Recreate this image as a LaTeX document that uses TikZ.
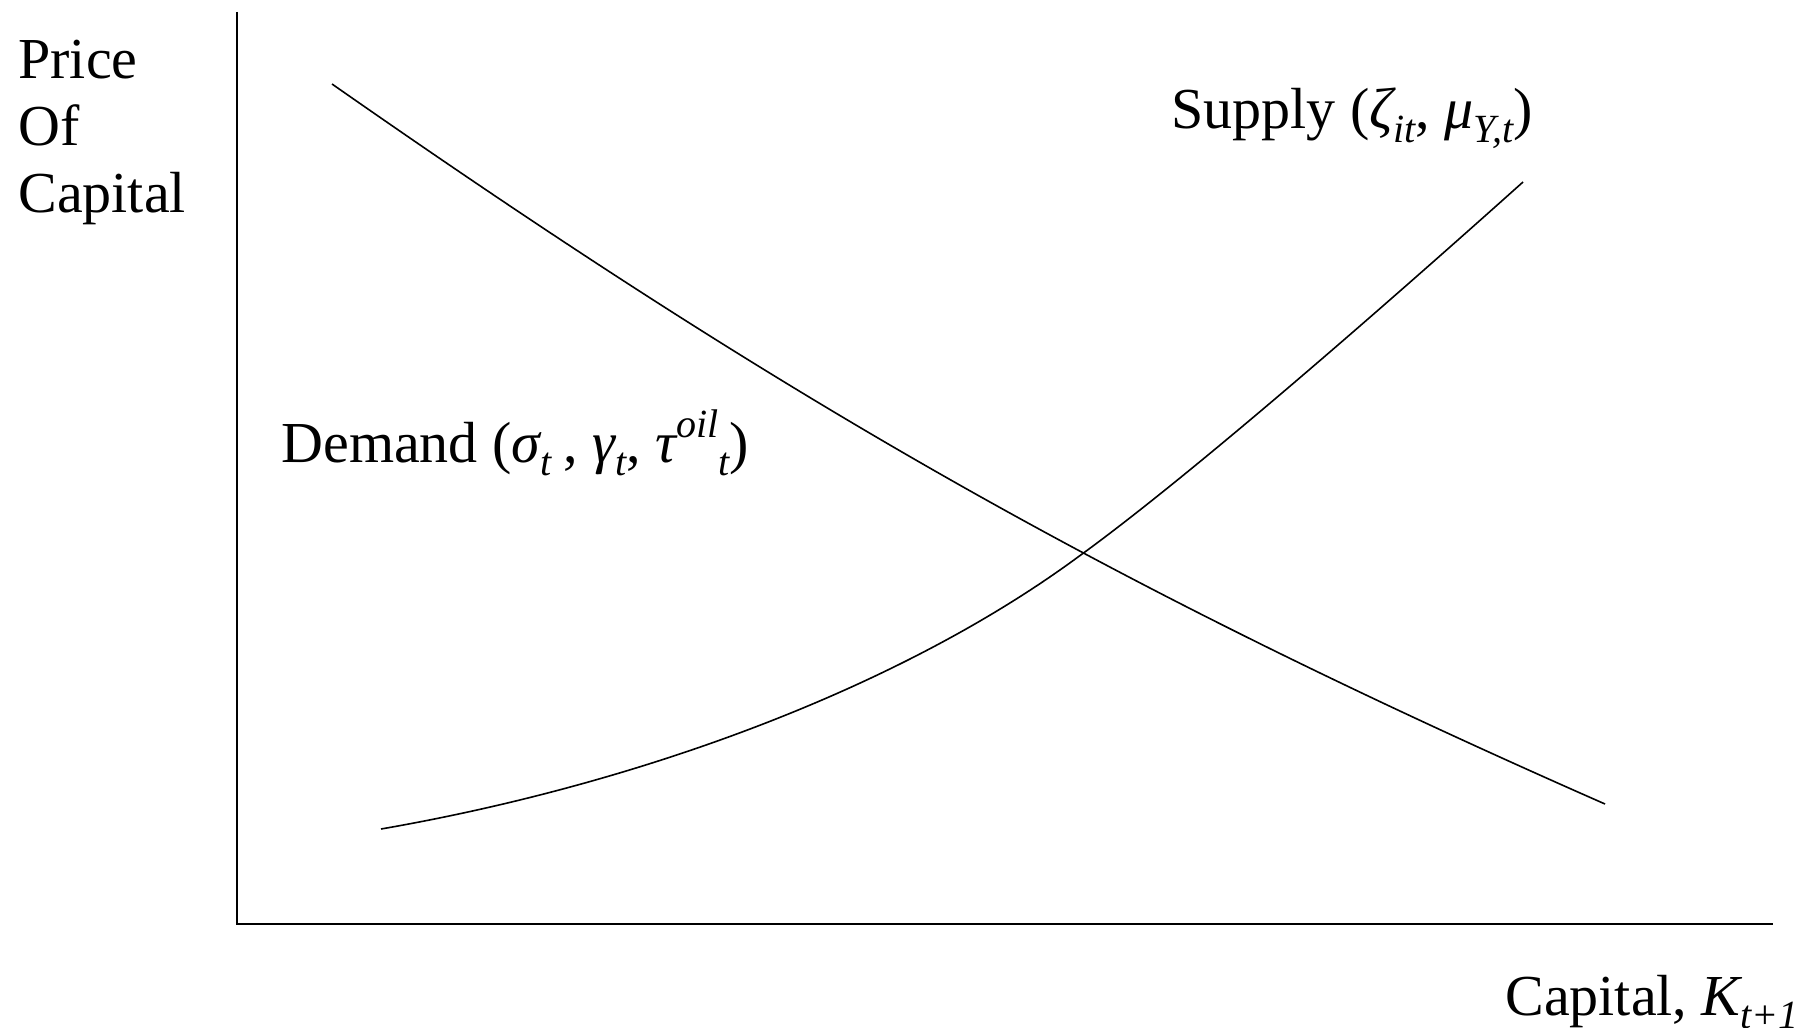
\documentclass[tikz,border=0pt]{standalone}
\usepackage{fontspec}
\setmainfont{Liberation Serif}
\newcommand{\lo}[1]{\raisebox{-0.24em}{\fontsize{20}{20}\selectfont\itshape #1}}
\newcommand{\hi}[1]{\raisebox{0.42em}{\fontsize{20}{20}\selectfont\itshape #1}}
\begin{document}
\begin{tikzpicture}[x=0.5pt,y=-0.5pt,
  lbl/.style={inner sep=0pt, anchor=base west, font=\fontsize{29}{34}\selectfont},
  axis/.style={line width=1pt},
  curve/.style={line width=0.8pt}]
\useasboundingbox (0,0) rectangle (1802,1027);
% axes
\coordinate (ytop) at (237,12);
\coordinate (origin) at (237,924);
\coordinate (xend) at (1773,924);
\draw[axis] (ytop) -- (origin) -- (xend);
% curves
\coordinate (dstart) at (332,84);
\coordinate (dend) at (1605,804);
\coordinate (sstart) at (381,829);
\coordinate (eq) at (1078,557);
\coordinate (send) at (1523,182);
\draw[curve] (dstart) .. controls (783,399) and (1105,584) .. (dend);
\draw[curve] (sstart) .. controls (640,784) and (900,688) .. (eq)
   .. controls (1190,476) and (1380,310) .. (send);
% labels
\node[lbl] (price) at (18,79) {Price};
\node[lbl] (of) at (18,146) {Of};
\node[lbl] (capital) at (18,213) {Capital};
\node[lbl] (supply) at (1171,129) {Supply ({\itshape ζ}\lo{it}, {\itshape μ}\lo{Y,t})};
\node[lbl] (demand) at (281,462) {Demand ({\itshape σ}\lo{t}\kern-1pt\ , {\itshape γ}\lo{t}, {\itshape τ}\hi{oil}\lo{t})};
\node[lbl] (xlabel) at (1505,1015) {Capital, {\itshape K}\lo{t+1}};
\end{tikzpicture}
\end{document}
